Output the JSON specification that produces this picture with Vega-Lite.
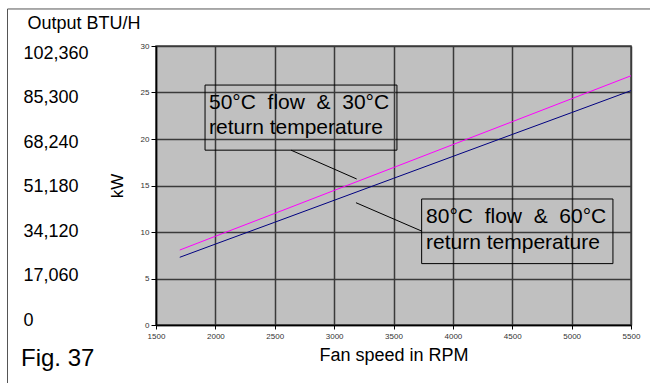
{
  "$schema": "https://vega.github.io/schema/vega-lite/v6.json",
  "width": 475,
  "height": 279,
  "autosize": {"type": "none"},
  "padding": {"left": 156, "top": 46, "right": 19, "bottom": 58},
  "background": "white",
  "config": {
    "font": "Liberation Sans",
    "view": {"fill": "#c0c0c0", "stroke": "#444444", "strokeWidth": 1.5}
  },
  "title": {
    "text": "Fig. 37",
    "orient": "bottom",
    "anchor": "start",
    "frame": "group",
    "fontSize": 24,
    "fontWeight": "normal",
    "color": "black",
    "dx": -135,
    "dy": -47
  },
  "datasets": {
    "lines": [
      {"rpm": 1700, "kw": 8.06, "series": "50/30"},
      {"rpm": 2000, "kw": 9.54, "series": "50/30"},
      {"rpm": 2500, "kw": 12.0, "series": "50/30"},
      {"rpm": 3000, "kw": 14.47, "series": "50/30"},
      {"rpm": 3500, "kw": 16.93, "series": "50/30"},
      {"rpm": 4000, "kw": 19.4, "series": "50/30"},
      {"rpm": 4500, "kw": 21.86, "series": "50/30"},
      {"rpm": 5000, "kw": 24.33, "series": "50/30"},
      {"rpm": 5500, "kw": 26.8, "series": "50/30"},
      {"rpm": 1700, "kw": 7.28, "series": "80/60"},
      {"rpm": 2000, "kw": 8.7, "series": "80/60"},
      {"rpm": 2500, "kw": 11.05, "series": "80/60"},
      {"rpm": 3000, "kw": 13.41, "series": "80/60"},
      {"rpm": 3500, "kw": 15.77, "series": "80/60"},
      {"rpm": 4000, "kw": 18.13, "series": "80/60"},
      {"rpm": 4500, "kw": 20.49, "series": "80/60"},
      {"rpm": 5000, "kw": 22.84, "series": "80/60"},
      {"rpm": 5500, "kw": 25.2, "series": "80/60"}
    ],
    "boxes": [
      {"x": 1913, "x2": 3529, "y": 18.8, "y2": 25.8},
      {"x": 3737, "x2": 5348, "y": 6.6, "y2": 13.55}
    ],
    "leaders": [
      {"x": 2637, "y": 18.8, "x2": 3190, "y2": 15.7},
      {"x": 3184, "y": 13.15, "x2": 3737, "y2": 10.1}
    ],
    "labels": [
      {"x": 1946, "y": 23.19, "label": "50°C \u00a0flow \u00a0& \u00a030°C"},
      {"x": 1946, "y": 20.58, "label": "return temperature"},
      {"x": 3774, "y": 10.93, "label": "80°C \u00a0flow \u00a0& \u00a060°C"},
      {"x": 3774, "y": 8.14, "label": "return temperature"}
    ]
  },
  "resolve": {"scale": {"y": "independent"}, "axis": {"y": "independent"}},
  "layer": [
    {
      "data": {"values": [{"frame": "outer"}]},
      "mark": {"type": "rect", "filled": false, "stroke": "#555555", "strokeWidth": 1},
      "encoding": {
        "x": {
          "datum": 249.5,
          "type": "quantitative",
          "scale": {"domain": [1500, 5500], "zero": false, "nice": false},
          "axis": {
            "values": [1500, 2000, 2500, 3000, 3500, 4000, 4500, 5000, 5500],
            "format": "d",
            "labelFontSize": 8,
            "labelColor": "#333333",
            "labelPadding": 3,
            "labelFlush": false,
            "tickSize": 4,
            "tickColor": "black",
            "domainColor": "black",
            "domainWidth": 1.5,
            "grid": true,
            "gridColor": "#3a3a3a",
            "gridWidth": 1.5,
            "gridOpacity": 1,
            "title": "Fan speed in RPM",
            "titleFontSize": 18,
            "titleFontWeight": "normal",
            "titleColor": "black",
            "titlePadding": 6
          }
        },
        "x2": {"datum": 5744},
        "y": {
          "datum": 34.95,
          "type": "quantitative",
          "scale": {"domain": [-0.56, 30.79], "zero": false, "nice": false},
          "axis": {
            "orient": "left",
            "values": [0, 5, 10, 15, 20, 25, 30],
            "labelExpr": "format(datum.value * 3412, ',')",
            "labelAlign": "left",
            "labelBaseline": "middle",
            "labelPadding": 133,
            "labelFontSize": 18,
            "labelColor": "black",
            "labelOverlap": false,
            "labelBound": false,
            "ticks": false,
            "tickSize": 0,
            "domain": false,
            "grid": false,
            "title": "Output BTU/H",
            "titleAngle": 0,
            "titleAlign": "left",
            "titleBaseline": "alphabetic",
            "titleX": -129,
            "titleY": -18,
            "titleFontSize": 18,
            "titleFontWeight": "normal",
            "titleColor": "black"
          }
        },
        "y2": {"datum": -7.86}
      }
    },
    {
      "layer": [
        {
          "data": {"name": "lines"},
          "mark": {"type": "line", "strokeWidth": 1},
          "encoding": {
            "x": {
              "field": "rpm",
              "type": "quantitative",
              "scale": {"domain": [1500, 5500], "zero": false, "nice": false},
              "axis": {
                "values": [1500, 2000, 2500, 3000, 3500, 4000, 4500, 5000, 5500],
                "format": "d",
                "labelFontSize": 8,
                "labelColor": "#333333",
                "labelPadding": 3,
                "labelFlush": false,
                "tickSize": 4,
                "tickColor": "black",
                "domainColor": "black",
                "domainWidth": 1.5,
                "grid": true,
                "gridColor": "#3a3a3a",
                "gridWidth": 1.5,
                "gridOpacity": 1,
                "title": "Fan speed in RPM",
                "titleFontSize": 18,
                "titleFontWeight": "normal",
                "titleColor": "black",
                "titlePadding": 6
              }
            },
            "y": {
              "field": "kw",
              "type": "quantitative",
              "scale": {"domain": [0, 30], "nice": false},
              "axis": {
                "orient": "left",
                "values": [0, 5, 10, 15, 20, 25, 30],
                "labelFontSize": 8,
                "labelColor": "#333333",
                "labelPadding": 2,
                "tickSize": 5,
                "tickColor": "black",
                "domainColor": "black",
                "domainWidth": 1.5,
                "grid": true,
                "gridColor": "#3a3a3a",
                "gridWidth": 1.5,
                "gridOpacity": 1,
                "title": "kW",
                "titleFontSize": 17,
                "titleFontWeight": "normal",
                "titleColor": "black",
                "titlePadding": 14
              }
            },
            "color": {
              "field": "series",
              "type": "nominal",
              "scale": {"domain": ["50/30", "80/60"], "range": ["#ff00ff", "#000080"]},
              "legend": null
            }
          }
        },
        {
          "data": {"name": "boxes"},
          "mark": {"type": "rect", "filled": false, "stroke": "black", "strokeWidth": 1},
          "encoding": {
            "x": {"field": "x", "type": "quantitative"},
            "x2": {"field": "x2"},
            "y": {"field": "y", "type": "quantitative"},
            "y2": {"field": "y2"}
          }
        },
        {
          "data": {"name": "leaders"},
          "mark": {"type": "rule", "color": "black", "strokeWidth": 1},
          "encoding": {
            "x": {"field": "x", "type": "quantitative"},
            "x2": {"field": "x2"},
            "y": {"field": "y", "type": "quantitative"},
            "y2": {"field": "y2"}
          }
        },
        {
          "data": {"name": "labels"},
          "mark": {"type": "text", "align": "left", "baseline": "alphabetic", "fontSize": 21, "color": "black"},
          "encoding": {
            "x": {"field": "x", "type": "quantitative"},
            "y": {"field": "y", "type": "quantitative"},
            "text": {"field": "label"}
          }
        }
      ]
    }
  ]
}
